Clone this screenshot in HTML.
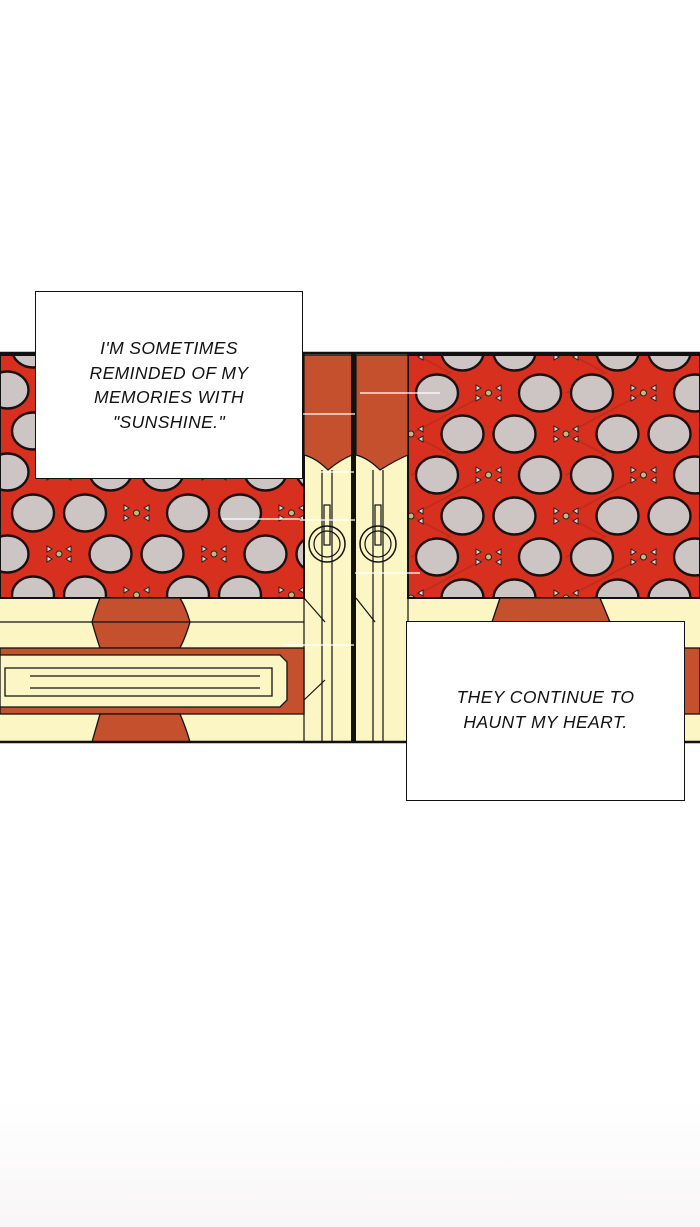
<!DOCTYPE html>
<html><head><meta charset="utf-8"><style>
html,body{margin:0;padding:0;background:#fff;}
body{width:700px;height:1227px;position:relative;overflow:hidden;background:linear-gradient(#fff 0,#fff 1100px,#f8f6f6 1227px);}
.box{position:absolute;background:#fff;border:1.5px solid #111;box-sizing:border-box;font-family:"Liberation Sans",sans-serif;font-style:italic;font-size:17.5px;color:#111;text-align:center;line-height:24.5px;letter-spacing:0.4px;}
</style></head><body>
<svg width="700" height="1227" style="position:absolute;left:0;top:0">
<defs>
<g id="tile">
 <ellipse cx="26" cy="20" rx="21" ry="18.5"/>
 <ellipse cx="78" cy="20" rx="21" ry="18.5"/>
 <ellipse cx="0.5" cy="61" rx="21" ry="18.5"/>
 <ellipse cx="103.5" cy="61" rx="21" ry="18.5"/>
 <ellipse cx="155.5" cy="61" rx="21" ry="18.5"/>
</g>
<pattern id="pR" patternUnits="userSpaceOnUse" width="155" height="82" x="49" y="45">
 <rect width="155" height="82" fill="#d8301f"/>
 <path d="M129.5 20 L52 61 M52 61 L129.5 102 M129.5 -21 L52 20" stroke="#b82616" stroke-width="2" opacity=".6"/>
 <g fill="#cdc4c4" stroke="#1a1010" stroke-width="2.4"><use href="#tile"/></g>
 <circle cx="129.5" cy="20" r="3" fill="#c9b77a" stroke="#222"/><circle cx="52" cy="61" r="3" fill="#c9b77a" stroke="#222"/>
 <g fill="#e8d9d0" stroke="#222" stroke-width="1"><path d="M117 12l5 3-5 3z M142 12l-5 3 5 3z M117 22l5 3-5 3z M142 22l-5 3 5 3z M40 53l5 3-5 3z M64 53l-5 3 5 3z M40 63l5 3-5 3z M64 63l-5 3 5 3z"/></g>
</pattern>
<pattern id="pL" patternUnits="userSpaceOnUse" width="155" height="82" x="7" y="1">
 <rect width="155" height="82" fill="#d8301f"/>
 <g fill="#cdc4c4" stroke="#1a1010" stroke-width="2.4"><use href="#tile"/></g>
 <circle cx="129.5" cy="20" r="3" fill="#c9b77a" stroke="#222"/><circle cx="52" cy="61" r="3" fill="#c9b77a" stroke="#222"/>
 <g fill="#e8d9d0" stroke="#222" stroke-width="1"><path d="M117 12l5 3-5 3z M142 12l-5 3 5 3z M117 22l5 3-5 3z M142 22l-5 3 5 3z M40 53l5 3-5 3z M64 53l-5 3 5 3z M40 63l5 3-5 3z M64 63l-5 3 5 3z"/></g>
</pattern>
</defs>
<rect x="0" y="352" width="700" height="391" fill="#fbf6c4"/>
<rect x="0" y="355" width="304" height="243" fill="url(#pL)" stroke="#111" stroke-width="2"/>
<rect x="408" y="355" width="292" height="243" fill="url(#pR)" stroke="#111" stroke-width="2"/>
<path d="M304 355 H352 V455 Q340 460 328 470 Q316 458 304 455 Z" fill="#c4502e" stroke="#111" stroke-width="1.2"/>
<path d="M356 355 H408 V455 Q396 460 380 470 Q368 458 356 455 Z" fill="#c4502e" stroke="#111" stroke-width="1.2"/>
<g stroke="#111" stroke-width="1.2" fill="none">
 <line x1="322" y1="470" x2="322" y2="742"/><line x1="332" y1="470" x2="332" y2="742"/>
 <line x1="373" y1="470" x2="373" y2="742"/><line x1="383" y1="470" x2="383" y2="742"/>
 <line x1="304" y1="598" x2="304" y2="742"/><line x1="408" y1="598" x2="408" y2="742"/>
 <rect x="324" y="505" width="6" height="40" fill="#fbf6c4"/>
 <rect x="375" y="505" width="6" height="40" fill="#fbf6c4"/>
 <circle cx="327" cy="544" r="18" stroke-width="1.5"/><circle cx="327" cy="544" r="13"/>
 <circle cx="378" cy="544" r="18" stroke-width="1.5"/><circle cx="378" cy="544" r="13"/>
 <path d="M304 598 L325 622 M304 700 L325 680 M356 598 L375 622"/>
</g>
<rect x="351" y="352" width="5" height="391" fill="#111"/>
<g stroke="#fff" stroke-width="1.5" opacity=".85">
 <line x1="300" y1="414" x2="355" y2="414"/><line x1="360" y1="393" x2="440" y2="393"/>
 <line x1="300" y1="520" x2="355" y2="520"/><line x1="222" y1="519" x2="300" y2="519"/>
 <line x1="320" y1="472" x2="354" y2="472"/><line x1="355" y1="573" x2="420" y2="573"/>
 <line x1="283" y1="645" x2="354" y2="645"/>
</g>
<g stroke="#111" stroke-width="1.3">
 <path d="M100 598 H180 Q186 608 190 622 Q186 636 180 648 H100 Q96 636 92 622 Q96 608 100 598Z" fill="#c4502e"/>
 <line x1="0" y1="622" x2="304" y2="622"/>
 <rect x="0" y="648" width="304" height="66" fill="#c4502e"/>
 <path d="M0 655 H280 L287 662 V700 L280 707 H0 Z" fill="#fbf6c4"/>
 <path d="M5 668 H272 V696 H5 Z" fill="#fbf6c4"/>
 <line x1="30" y1="676" x2="260" y2="676"/><line x1="30" y1="688" x2="260" y2="688"/>
 <path d="M100 714 H180 Q186 728 190 742 H92 Q96 728 100 714Z" fill="#c4502e"/>
 <path d="M500 598 H600 Q605 610 610 622 H492 Q496 610 500 598Z" fill="#c4502e"/>
 <rect x="684" y="648" width="16" height="66" fill="#c4502e"/>
</g>
<line x1="0" y1="353" x2="700" y2="353" stroke="#111" stroke-width="2.5"/>
<line x1="0" y1="742" x2="700" y2="742" stroke="#111" stroke-width="2.5"/>
</svg>
<div class="box" style="left:35px;top:291px;width:268px;height:188px;padding-top:44px;">I'M SOMETIMES<br>REMINDED OF MY<br>MEMORIES WITH<br>"SUNSHINE."</div>
<div class="box" style="left:406px;top:621px;width:279px;height:180px;padding-top:63px;">THEY CONTINUE TO<br>HAUNT MY HEART.</div>
</body></html>
